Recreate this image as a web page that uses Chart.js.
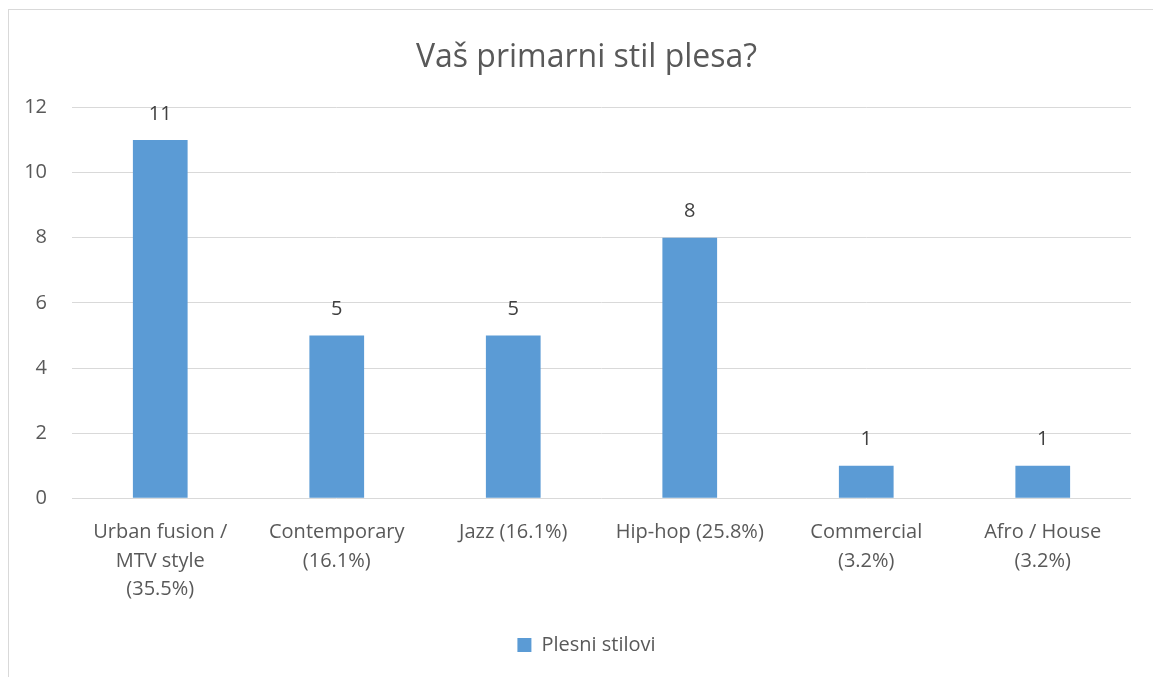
<!DOCTYPE html>
<html>
<head>
<meta charset="utf-8">
<script src="https://cdn.jsdelivr.net/npm/chart.js@4/dist/chart.umd.min.js"></script>
<style>
    html, body { margin: 0; padding: 0; background: #fff; overflow: hidden; }
    #wrap { position: relative; width: 1153px; height: 677px; overflow: hidden; }
    #frame {
        position: absolute; left: 8px; top: 9px; width: 1200px; height: 700px;
        border: 1px solid #d9d9d9; pointer-events: none;
    }
</style>
</head>
<body>
<div id="wrap">
    <canvas id="chart" width="1173" height="677"></canvas>
    <div id="frame"></div>
</div>
<script>
const categories = [
    ["Urban fusion /", "MTV style", "(35.5%)"],
    ["Contemporary", "(16.1%)"],
    ["Jazz (16.1%)"],
    ["Hip-hop (25.8%)"],
    ["Commercial", "(3.2%)"],
    ["Afro / House", "(3.2%)"]
]
const seriesName = "Plesni stilovi"
const values = [11, 5, 5, 8, 1, 1]
const yTicks = [0, 2, 4, 6, 8, 10, 12]

const FONT = "'Open Sans', sans-serif"

// etiquetas de valor encima de las barras
const valueLabels = {
    id: "valueLabels",
    afterDatasetsDraw(chart) {
        const ctx = chart.ctx
        const meta = chart.getDatasetMeta(0)
        ctx.save()
        ctx.font = "20px " + FONT
        ctx.fillStyle = "#404040"
        ctx.textAlign = "center"
        ctx.textBaseline = "middle"
        meta.data.forEach((bar, i) => {
            ctx.fillText(String(values[i]), bar.x, bar.y - 26)
        })
        ctx.restore()
    }
}

new Chart(document.getElementById("chart"), {
    type: "bar",
    data: {
        labels: categories,
        datasets: [{
            label: seriesName,
            data: values,
            backgroundColor: "#5b9bd5",
            borderWidth: 0,
            categoryPercentage: 1,
            barPercentage: 0.31
        }]
    },
    options: {
        responsive: false,
        animation: false,
        layout: { padding: { left: 0, right: 0, top: 20, bottom: 12 } },
        plugins: {
            title: {
                display: true,
                text: "Vaš primarni stil plesa?",
                color: "#595959",
                font: { family: FONT, size: 32, weight: "normal" },
                padding: { top: 19, bottom: 30 }
            },
            legend: {
                position: "bottom",
                labels: {
                    color: "#595959",
                    font: { family: FONT, size: 20 },
                    boxWidth: 14,
                    boxHeight: 14,
                    padding: 11.5
                }
            },
            tooltip: { enabled: false }
        },
        scales: {
            x: {
                grid: { display: false, drawTicks: false },
                border: { display: false },
                ticks: {
                    color: "#595959",
                    font: { family: FONT, size: 20, lineHeight: 1.42 },
                    padding: 20,
                    maxRotation: 0,
                    autoSkip: false
                }
            },
            y: {
                min: 0,
                max: 12,
                afterBuildTicks(scale) {
                    scale.ticks = yTicks.map(v => ({ value: v }))
                },
                afterFit(scale) {
                    scale.width = 72
                },
                grid: { color: "#d9d9d9", lineWidth: 1, drawTicks: false },
                border: { display: false },
                ticks: {
                    color: "#595959",
                    font: { family: FONT, size: 20 },
                    padding: 25
                }
            },
            // margen derecho vacío (el gráfico original sigue fuera de la imagen)
            yRight: {
                position: "right",
                display: true,
                grid: { display: false, drawTicks: false },
                border: { display: false },
                ticks: { display: false },
                afterFit(scale) {
                    scale.width = 42
                }
            }
        }
    },
    plugins: [valueLabels]
})
</script>
</body>
</html>
